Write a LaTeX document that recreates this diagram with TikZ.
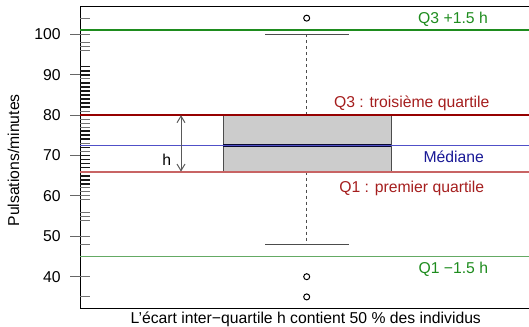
\documentclass[tikz,border=0pt]{standalone}
\usepackage{fontspec}
\setmainfont{Liberation Sans}
\usetikzlibrary{arrows.meta}
\definecolor{vertfonce}{RGB}{30,140,30}
\definecolor{vertclair}{RGB}{100,170,100}
\definecolor{rougefonce}{RGB}{150,0,0}
\definecolor{rougeclair}{RGB}{200,100,100}
\definecolor{bleuligne}{RGB}{80,80,200}
\definecolor{textrouge}{RGB}{165,30,30}
\definecolor{textbleu}{RGB}{25,25,150}
\definecolor{mediane}{RGB}{10,10,50}

\begin{document}
\begin{tikzpicture}[x=0.75pt,y=0.75pt]
		\tikzset{
			every node/.style={font=\fontsize{11.8}{14}\selectfont},
			texte/.style ={
				anchor=base, %基线对齐
				inner sep=0pt
			},
			outlier/.style ={
				circle, %圆形节点
				minimum size=4.5pt, %直径
				inner sep=0pt,
				draw=black,
				line width=0.75pt,
				fill=white
			},
			rugthin/.style={black!55, line width=0.75pt},
			rugthick/.style={black!90, line width=1.3pt},
			whisker/.style={black!70, line width=0.75pt, dash pattern=on 2.25pt off 2.25pt},
			hline/.style={line width=1.3pt}
		}
		\useasboundingbox (0,0) rectangle (529,326);
		\begin{scope}[y=3.03pt, yshift=-84.225pt]
		% cadre et axe
		\draw[line width=0.75pt] (530,106.76) -- (80,106.76) -- (80,32.25) -- (530,32.25);
		\foreach \v in {40,50,...,100}{
			\draw[black!60, line width=0.75pt] (70,\v) -- (80,\v);
			\node[anchor=east, inner sep=0pt] (y\v) at (61,\v) {\v};
		}
		\node[texte, rotate=90] (ylab) at (19,68.8) {Pulsations/minutes};
		% rug
		\foreach \v in {35,40,48,50,54,55,56,59,60,61,62,71,73,77,78,79,81,89,96,97,98,100,104}
			\draw[rugthin] (80,\v) -- (90,\v);
		\foreach \v in {63,64,65,66,67,68,69,70,72,74,75,76,80,82,83,84,85,86,87,88,90,91,92}
			\draw[rugthick] (80,\v) -- (90,\v);
		% boite
		\draw[fill=black!20, draw=black!70, line width=0.75pt] (223.3,66) rectangle (391,80);
		\draw[mediane, line width=2.4pt] (223.3,72.5) -- (391,72.5);
		\coordinate (q3) at (306.7,80);
		\coordinate (q1) at (306.7,66);
		\coordinate (sup) at (306.7,100);
		\coordinate (inf) at (306.7,48);
		\draw[whisker] (q3) -- (sup);
		\draw[whisker] (q1) -- (inf);
		\draw[black!70, line width=0.75pt] (265,100) -- (349.3,100);
		\draw[black!70, line width=0.75pt] (265,48) -- (349.3,48);
		\node[outlier] (o1) at (306.7,104) {};
		\node[outlier] (o2) at (306.7,40) {};
		\node[outlier] (o3) at (306.7,35) {};
		% lignes
		\draw[hline, draw=vertfonce] (80,101) -- (530,101);
		\draw[hline, draw=rougefonce] (80,80) -- (530,80);
		\draw[hline, draw=bleuligne, line width=1pt] (80,72.5) -- (530,72.5);
		\draw[hline, draw=rougeclair] (80,66) -- (530,66);
		\draw[hline, draw=vertclair] (80,45) -- (530,45);
		% ecart h
		\coordinate (h1) at (181,80);
		\coordinate (h2) at (181,66);
		\draw[black!65, line width=0.75pt, {Straight Barb[length=5pt,width=6pt]}-{Straight Barb[length=5pt,width=6pt]}] (h1) -- (h2);
		\node[texte] (h) at (166.7,67.6) {h};
		% textes
		\node[texte, text=vertfonce] (t1) at (453,102.55) {Q3 +1.5 h};
		\node[texte, text=textrouge] (t2) at (411.7,81.76) {Q3 : troisième quartile};
		\node[texte, text=textbleu] (t3) at (453.7,68.3) {Médiane};
		\node[texte, text=textrouge] (t4) at (411.7,60.9) {Q1 : premier quartile};
		\node[texte, text=vertfonce] (t5) at (453.3,40.67) {Q1 −1.5 h};
		\node[texte] (t6) at (305.8,28.4) {L'écart inter−quartile h contient 50 \% des individus};
		\end{scope}
	\end{tikzpicture}
\end{document}
